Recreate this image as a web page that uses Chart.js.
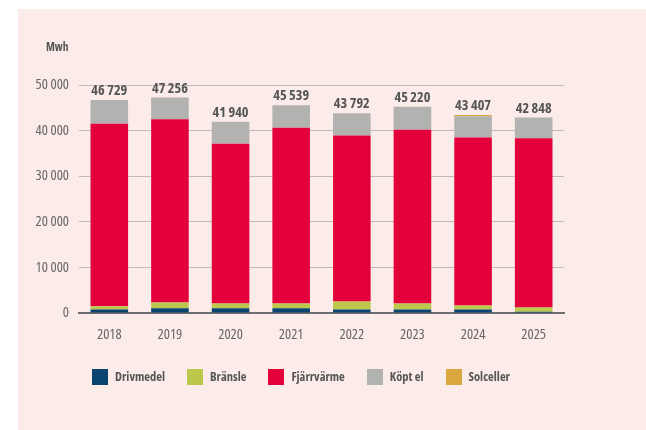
<!DOCTYPE html>
<html>
<head>
<meta charset="utf-8">
<script src="https://cdn.jsdelivr.net/npm/chart.js@4.4.1/dist/chart.umd.min.js"></script>
<style>
  html, body { margin: 0; padding: 0; background: #ffffff; width: 646px; height: 430px; overflow: hidden; }
  #panel { position: absolute; left: 18px; top: 9px; right: 0; bottom: 0; background: #fbebe9; }
  #c { position: absolute; left: 0; top: 0; }
  #unit { position: absolute; left: 46px; top: 47px; transform: translateY(-50%); font-weight: bold; color: #555; line-height: 1; }
  #legend { position: absolute; left: 92px; top: 377px; transform: translateY(-50%); display: flex; align-items: center; }
  .item { display: flex; align-items: center; margin-right: 22px; font-weight: bold; color: #555; line-height: 1; }
  .box { width: 16px; height: 16px; margin-right: 7px; flex: none; }
</style>
</head>
<body>
<div id="panel"></div>
<canvas id="c" width="646" height="430"></canvas>
<div id="unit">Mwh</div>
<div id="legend"></div>
<script>
const categories = ['2018', '2019', '2020', '2021', '2022', '2023', '2024', '2025'];
const drivmedel  = [770, 1060, 1060, 1060, 770, 770, 770, 300];
const bransle    = [730, 1240, 1040, 1040, 1760, 1330, 880, 900];
const fjarrvarme = [40020, 40170, 35000, 38500, 36370, 38100, 36850, 37100];
const koptEl     = [5209, 4786, 4840, 4939, 4892, 5020, 4657, 4548];
const solceller  = [0, 0, 0, 0, 0, 0, 250, 0];
const seriesNames = ['Drivmedel', 'Bränsle', 'Fjärrvärme', 'Köpt el', 'Solceller'];
const seriesColors = ['#0a4470', '#bcc84b', '#e4003b', '#b2b2b0', '#dba83f'];
const yMax = 50000;
const yStep = 10000;

function fmt(v) { return String(Math.round(v)).replace(/\B(?=(\d{3})+(?!\d))/g, ' '); }

// ---- pick a narrow font that is really installed ----
const mctx = document.createElement('canvas').getContext('2d');
function mw(font, txt) { mctx.font = font; return mctx.measureText(txt).width; }
const PROBE = 'Drivmedel Fjärrvärme 0123456789';
function hasFamily(f) {
  return Math.abs(mw('40px "' + f + '", monospace', PROBE) - mw('40px monospace', PROBE)) > 0.5 &&
         Math.abs(mw('40px "' + f + '", serif', PROBE) - mw('40px serif', PROBE)) > 0.5;
}
function hasCondensed(f) {
  return hasFamily(f) && mw('condensed 40px "' + f + '"', PROBE) < 0.95 * mw('40px "' + f + '"', PROBE);
}
let FAM = 'Roboto', STRETCH = 'normal';
const cands = [
  ['Liberation Sans Narrow', 'normal'],
  ['Noto Sans', 'condensed'],
  ['Open Sans', 'condensed'],
  ['DejaVu Sans Condensed', 'normal'],
  ['DejaVu Sans', 'condensed'],
  ['Roboto', 'normal']
];
for (const [f, s] of cands) {
  if (s === 'normal' ? hasFamily(f) : hasCondensed(f)) { FAM = f; STRETCH = s; break; }
}
const FAMILY = '"' + FAM + '", sans-serif';
function fontStr(weight, size) { return (STRETCH === 'condensed' ? 'condensed ' : '') + weight + ' ' + size + 'px ' + FAMILY; }
function fitSize(weight, txt, target) { return +(target / mw(fontStr(weight, 100), txt) * 100).toFixed(2); }

const tickSize  = fitSize('normal', '50 000', 33.5);
const totalSize = fitSize('bold', '46 729', 36);
const legSize   = fitSize('bold', 'Drivmedel', 50);
const unitSize  = fitSize('bold', 'Mwh', 22.5);
const cjsWeight = (w) => (STRETCH === 'condensed' ? w + ' condensed' : w);

const seriesData = [drivmedel, bransle, fjarrvarme, koptEl, solceller];
const datasets = seriesNames.map((n, i) => ({
  label: n,
  data: seriesData[i],
  backgroundColor: seriesColors[i],
  borderWidth: 0,
  barPercentage: 0.62,
  categoryPercentage: 1.0
}));

const totalsPlugin = {
  id: 'totals',
  afterDatasetsDraw(chart) {
    const ctx = chart.ctx;
    const ys = chart.scales.y;
    const meta0 = chart.getDatasetMeta(0);
    ctx.save();
    ctx.font = fontStr('bold', totalSize);
    ctx.fillStyle = '#555555';
    ctx.textAlign = 'center';
    ctx.textBaseline = 'alphabetic';
    categories.forEach((c, i) => {
      let sum = 0;
      seriesData.forEach(s => sum += s[i]);
      const x = meta0.data[i].x;
      const y = ys.getPixelForValue(sum);
      ctx.fillText(fmt(sum), x, y - 5);
    });
    ctx.restore();
  }
};

new Chart(document.getElementById('c'), {
  type: 'bar',
  data: { labels: categories, datasets },
  options: {
    responsive: false,
    animation: false,
    devicePixelRatio: 1,
    layout: { padding: { top: 85, right: 82, bottom: 87, left: 0 } },
    plugins: { legend: { display: false }, tooltip: { enabled: false } },
    scales: {
      x: {
        stacked: true,
        grid: { display: false, drawTicks: false },
        border: { display: true, color: '#6e6e6e', width: 2 },
        ticks: { color: '#666666', font: { family: FAMILY, size: tickSize, weight: cjsWeight('normal') }, padding: 13 },
        afterFit(s) { s.height = 30; }
      },
      y: {
        stacked: true,
        min: 0,
        max: yMax,
        grid: {
          drawTicks: false,
          color: (c) => c.tick && c.tick.value === 0 ? 'rgba(0,0,0,0)' : '#c2baba',
          lineWidth: 1
        },
        border: { display: false },
        ticks: {
          stepSize: yStep,
          color: '#666666',
          font: { family: FAMILY, size: tickSize, weight: cjsWeight('normal') },
          padding: 10,
          callback: (v) => fmt(v)
        },
        afterFit(s) { s.width = 79; }
      }
    }
  },
  plugins: [totalsPlugin]
});

function styleText(el, size) {
  el.style.fontFamily = FAMILY;
  el.style.fontStretch = STRETCH;
  el.style.fontSize = size + 'px';
}
styleText(document.getElementById('unit'), unitSize);
const lg = document.getElementById('legend');
seriesNames.forEach((n, i) => {
  const it = document.createElement('div');
  it.className = 'item';
  styleText(it, legSize);
  const b = document.createElement('div');
  b.className = 'box';
  b.style.background = seriesColors[i];
  const t = document.createElement('span');
  t.textContent = n;
  it.appendChild(b); it.appendChild(t);
  lg.appendChild(it);
});
</script>
</body>
</html>
